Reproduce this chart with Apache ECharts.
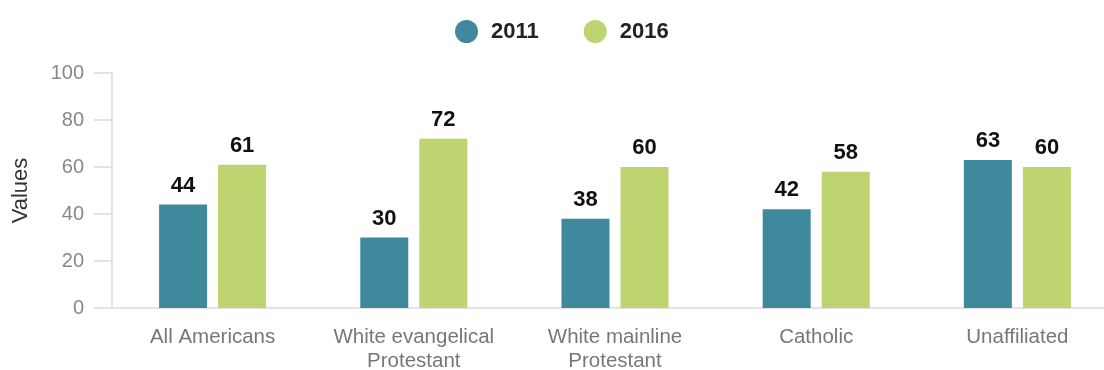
<!DOCTYPE html>
<html>
<head>
<meta charset="utf-8">
<script src="https://cdn.jsdelivr.net/npm/echarts@6/dist/echarts.min.js"></script>
<style>
  html, body { margin: 0; padding: 0; background: #fff; }
  #chart { width: 1104px; height: 370px; }
</style>
</head>
<body>
<div id="chart"></div>
<script>
const categories = ['All Americans', 'White evangelical\nProtestant', 'White mainline\nProtestant', 'Catholic', 'Unaffiliated'];
const values2011 = [44, 30, 38, 42, 63];
const values2016 = [61, 72, 60, 58, 60];
const yTicks = [0, 20, 40, 60, 80, 100];

const chart = echarts.init(document.getElementById('chart'));

const labelStyle = {
  show: true,
  position: 'top',
  distance: 8,
  color: '#111',
  fontFamily: 'Liberation Sans, Arial, sans-serif',
  fontWeight: 'bold',
  fontSize: 22
};

chart.setOption({
  animation: false,
  textStyle: { fontFamily: 'Liberation Sans, Arial, sans-serif' },
  legend: {
    top: 15,
    left: 450,
    itemWidth: 23,
    itemHeight: 23,
    itemGap: 45,
    icon: 'circle',
    textStyle: { color: '#222', fontSize: 22, fontWeight: 'bold', padding: [0, 0, 0, 8] },
    data: ['2011', '2016']
  },
  grid: { left: 112, right: -14, top: 73, bottom: 62, outerBoundsMode: 'none', containLabel: false },
  xAxis: {
    type: 'category',
    data: categories,
    axisLine: { show: true, lineStyle: { color: '#e3e3e3', width: 2 } },
    axisTick: { show: false },
    axisLabel: { color: '#777', fontSize: 20.5, margin: 17, lineHeight: 24, interval: 0 }
  },
  yAxis: {
    type: 'value',
    min: yTicks[0],
    max: yTicks[yTicks.length - 1],
    interval: 20,
    name: 'Values',
    nameLocation: 'middle',
    nameGap: 80,
    nameTextStyle: { color: '#333', fontSize: 22 },
    axisLine: { show: true, lineStyle: { color: '#e3e3e3', width: 2 } },
    axisTick: { show: true, length: 18, lineStyle: { color: '#e3e3e3', width: 2 } },
    axisLabel: { color: '#888', fontSize: 20, margin: 28 },
    splitLine: { show: false }
  },
  series: [
    {
      name: '2011',
      type: 'bar',
      data: values2011,
      barWidth: 48,
      barGap: '23%',
      itemStyle: { color: '#3f899c' },
      label: labelStyle
    },
    {
      name: '2016',
      type: 'bar',
      data: values2016,
      barWidth: 48,
      barGap: '23%',
      itemStyle: { color: '#bdd470' },
      label: labelStyle
    }
  ]
});
</script>
</body>
</html>
